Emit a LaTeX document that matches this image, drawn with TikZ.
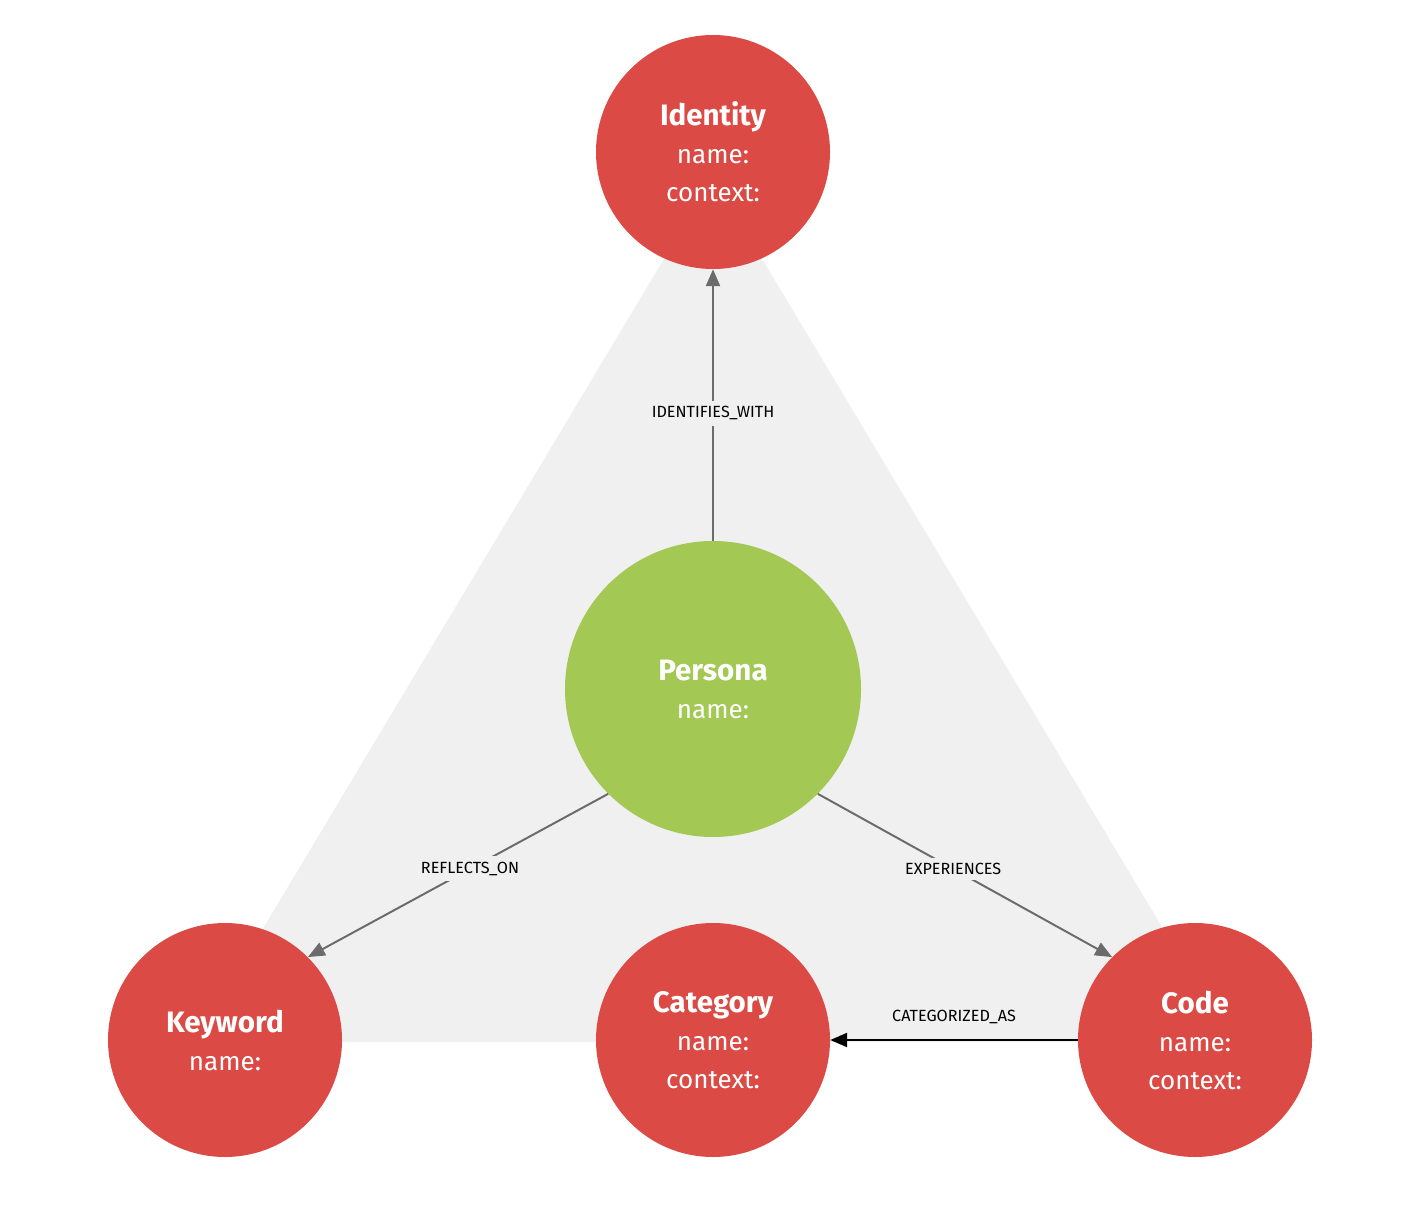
\documentclass[tikz,border=0pt]{standalone}
\usepackage{fontspec}
\setmainfont{Fira Sans}
\usepackage{tikz}
\usetikzlibrary{arrows.meta, positioning}

\definecolor{nodered}{HTML}{DB4A44}
\definecolor{nodegreen}{HTML}{A3C853}
\definecolor{backgray}{HTML}{F0F0F0}
\definecolor{relgray}{HTML}{6B6B6B}

\newcommand{\ttl}[1]{{\fontsize{21}{27}\selectfont\bfseries #1}}

\begin{document}
\begin{tikzpicture}[x=0.025cm,y=-0.025cm,
 entity node/.style={circle,fill=nodered,text=white,minimum size=234*0.025cm,inner sep=0pt,
   align=center,font=\fontsize{18.5}{27}\selectfont},
 persona node/.style={entity node,fill=nodegreen,minimum size=296*0.025cm},
 rel/.style={draw=relgray,line width=1.4pt,-{Triangle[length=12pt,width=10pt]}},
 rel label/.style={fill=backgray,inner sep=4pt,text=black,font=\fontsize{11.5}{13}\selectfont}]

  \useasboundingbox (0,0) rectangle (1408,1220);

  % background triangle
  \fill[backgray] (713,177) -- (195,1042) -- (1231,1042) -- cycle;

  \node[entity node] (identity) at (713,152) {\ttl{Identity}\\name:\\context:};
  \node[persona node] (persona) at (713,689) {\ttl{Persona}\\name:};
  \node[entity node] (keyword) at (225,1040) {\ttl{Keyword}\\name:};
  \node[entity node] (category) at (713,1040) {\ttl{Category}\\name:\\context:};
  \node[entity node] (code) at (1195,1040) {\ttl{Code}\\name:\\context:};

  \draw[rel] (persona) -- node[rel label,pos=0.47] {IDENTIFIES\_WITH} (identity);
  \draw[rel] (persona.225) -- node[rel label,pos=0.46] {REFLECTS\_ON} (keyword.45);
  \draw[rel] (persona.-45) -- node[rel label,pos=0.46] {EXPERIENCES} (code.135);
  \draw[rel,draw=black] (code) -- node[rel label,fill=none,above=7pt] {CATEGORIZED\_AS} (category);

\end{tikzpicture}
\end{document}
